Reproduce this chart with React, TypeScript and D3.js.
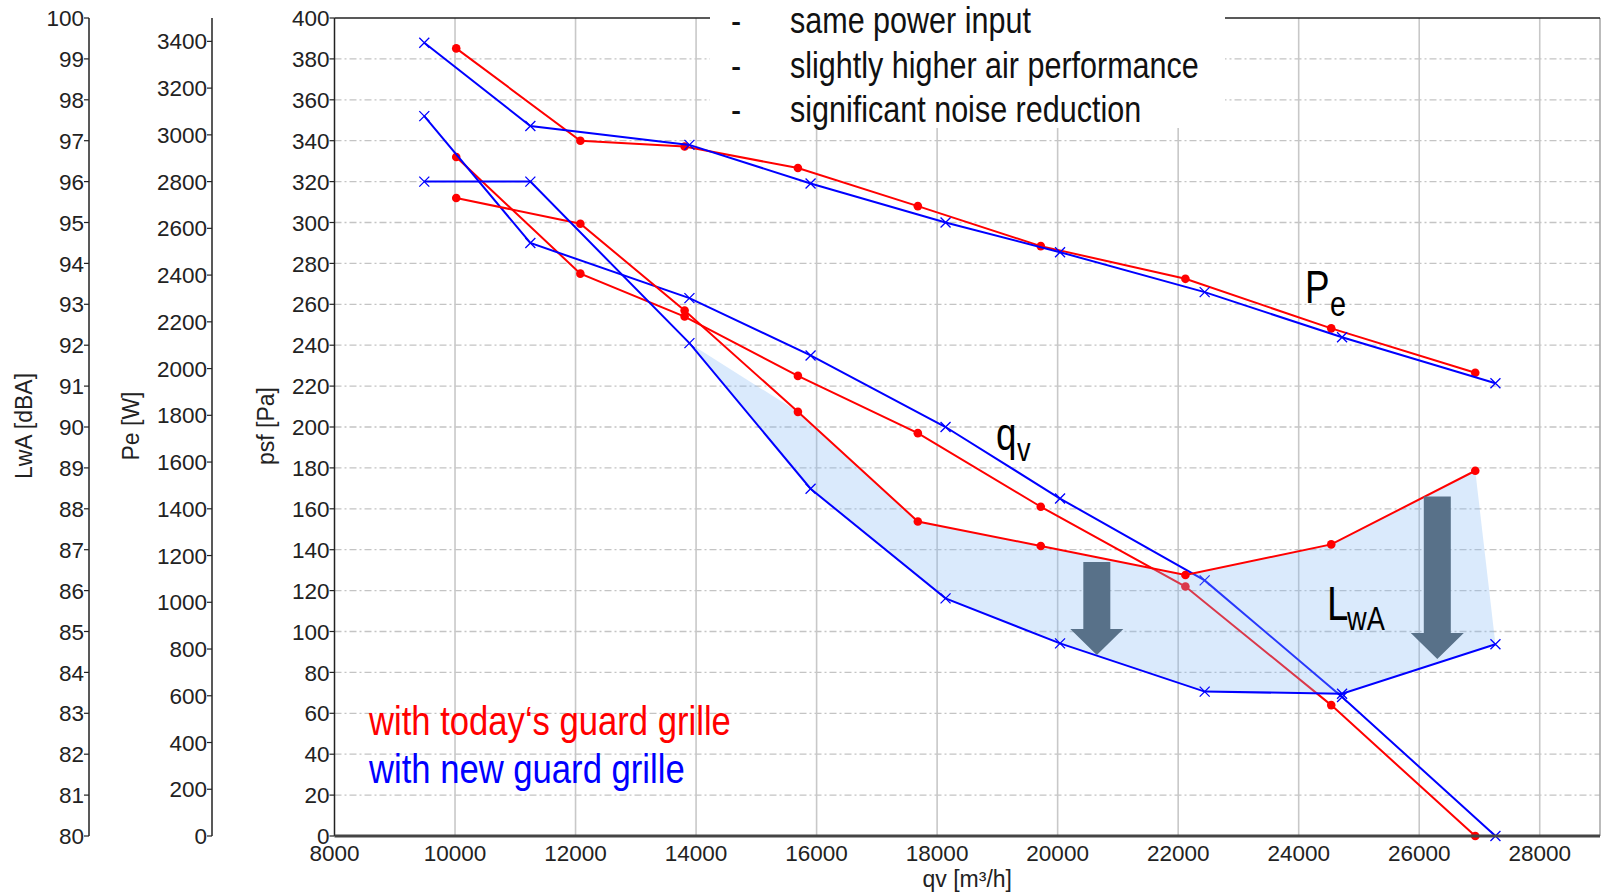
import * as d3 from "d3";

// flow rate qv [m³/h] of the measured points
const qToday = [10020, 12080, 13810, 15690, 17680, 19720, 22120, 24540, 26930];
const qNew = [9490, 11250, 13890, 15900, 18140, 20040, 22440, 24720, 27265];

// power input Pe [W]
const peToday = [3370, 2975, 2950, 2858, 2695, 2524, 2384, 2172, 1982];
const peNew = [3394, 3038, 2957, 2792, 2625, 2498, 2327, 2134, 1937];

// static pressure psf [Pa]
const psfToday = [332, 275, 254, 225, 197, 161, 122, 64, 0];
const psfNew = [352, 290, 263, 235, 200, 165, 125, 68, 0];

// sound power LwA [dBA]
const lwaToday = [95.6, 94.97, 92.85, 90.37, 87.69, 87.09, 86.38, 87.13, 88.93];
const lwaNew = [96.0, 96.0, 92.05, 88.49, 85.81, 84.71, 83.53, 83.48, 84.69];

const xTicks = d3.range(8000, 28001, 2000);
const psfTicks = d3.range(0, 401, 20);
const peTicks = d3.range(0, 3401, 200);
const lwaTicks = d3.range(80, 101, 1);

const notes = ["same power input", "slightly higher air performance", "significant noise reduction"];
const legend = ["with today\u2018s guard grille", "with new guard grille"];

// arrows (q, top psf, tip psf)
const arrows = [
  { q: 20650, top: 134, tip: 88.5 },
  { q: 26300, top: 166, tip: 86.5 },
];

const FONT = "'Liberation Sans', Arial, sans-serif";
const RED = "#ff0000";
const BLUE = "#0000ff";

export default function App() {
  const x = d3.scaleLinear().domain([8000, 29000]).range([334.5, 1600]);
  const yPsf = d3.scaleLinear().domain([0, 400]).range([836, 18]);
  const yPe = d3.scaleLinear().domain([0, 3500]).range([836, 18]);
  const yLwa = d3.scaleLinear().domain([80, 100]).range([836, 18]);

  const line = d3.line<[number, number]>();
  const pts = (qs: number[], vs: number[], y: d3.ScaleLinear<number, number>) =>
    qs.map((q, i) => [x(q), y(vs[i])] as [number, number]);

  const peT = pts(qToday, peToday, yPe);
  const peN = pts(qNew, peNew, yPe);
  const psT = pts(qToday, psfToday, yPsf);
  const psN = pts(qNew, psfNew, yPsf);
  const lwT = pts(qToday, lwaToday, yLwa);
  const lwN = pts(qNew, lwaNew, yLwa);

  // shaded noise reduction area
  const area = [lwN[2], ...lwT.slice(3), ...lwN.slice(2).reverse()];

  const dots = (p: [number, number][]) =>
    p.map((d, i) => <circle key={i} cx={d[0]} cy={d[1]} r={4.3} fill={RED} />);
  const crosses = (p: [number, number][]) =>
    p.map((d, i) => (
      <path key={i} d={`M${d[0] - 5},${d[1] - 5}L${d[0] + 5},${d[1] + 5}M${d[0] - 5},${d[1] + 5}L${d[0] + 5},${d[1] - 5}`} stroke={BLUE} strokeWidth={1.3} />
    ));

  const x0 = x(8000), x1 = x(29000);
  const yTop = yPsf(400), yBot = yPsf(0);

  const yAxis = (ax: number, ticks: number[], y: d3.ScaleLinear<number, number>, key: string) => (
    <g key={key}>
      <line x1={ax} x2={ax} y1={yTop} y2={yBot} stroke="#222" strokeWidth={1.5} />
      {ticks.map((t) => (
        <g key={t}>
          <line x1={ax - 5} x2={ax} y1={y(t)} y2={y(t)} stroke="#222" strokeWidth={1.2} />
          <text x={ax - 5} y={y(t)} dy="0.36em" textAnchor="end" fontSize={22.5} fill="#222">{t}</text>
        </g>
      ))}
    </g>
  );

  return (
    <div style={{ position: "absolute", left: 0, top: 0 }}>
      <svg width={1607} height={896} style={{ display: "block" }} fontFamily={FONT}>
        <rect width={1607} height={896} fill="#fff" />
        {/* grid */}
        {psfTicks.filter((t) => t > 0 && t < 400).map((t) => (
          <line key={t} x1={x0} x2={x1} y1={yPsf(t)} y2={yPsf(t)} stroke="#c4c4c4" strokeWidth={1.3} strokeDasharray="7,3,2,3" />
        ))}
        {xTicks.filter((t) => t > 8000).map((t) => (
          <line key={t} x1={x(t)} x2={x(t)} y1={yTop} y2={yBot} stroke="#c8c8c8" strokeWidth={1.6} />
        ))}
        <line x1={x1} x2={x1} y1={yTop} y2={yBot} stroke="#aaa" strokeWidth={1.6} />

        {/* pressure curves under the shading */}
        <path d={line(psT) ?? ""} fill="none" stroke={RED} strokeWidth={2} />
        {dots(psT)}
        <path d={line(psN) ?? ""} fill="none" stroke={BLUE} strokeWidth={2} />
        {crosses(psN)}

        <path d={line(area) ?? ""} fill="rgb(132,185,245)" fillOpacity={0.3} stroke="none" />

        <path d={line(peT) ?? ""} fill="none" stroke={RED} strokeWidth={2} />
        {dots(peT)}
        <path d={line(peN) ?? ""} fill="none" stroke={BLUE} strokeWidth={2} />
        {crosses(peN)}
        <path d={line(lwT) ?? ""} fill="none" stroke={RED} strokeWidth={2} />
        {dots(lwT)}
        <path d={line(lwN) ?? ""} fill="none" stroke={BLUE} strokeWidth={2} />
        {crosses(lwN)}

        {/* arrows */}
        {arrows.map((a, i) => {
          const cx = x(a.q), t = yPsf(a.top), tip = yPsf(a.tip);
          const hb = tip - 26;
          return (
            <path key={i} fill="#587189"
              d={`M${cx - 13.5},${t}H${cx + 13.5}V${hb}H${cx + 26.5}L${cx},${tip}L${cx - 26.5},${hb}H${cx - 13.5}Z`} />
          );
        })}

        {/* axes */}
        {yAxis(89, lwaTicks, yLwa, "lwa")}
        {yAxis(212, peTicks, yPe, "pe")}
        {yAxis(x0, psfTicks, yPsf, "psf")}
        <line x1={x0} x2={x1} y1={yBot} y2={yBot} stroke="#444" strokeWidth={3} />
        <line x1={x0} x2={x1} y1={yTop} y2={yTop} stroke="#222" strokeWidth={1.3} />
        {xTicks.map((t) => (
          <text key={t} x={x(t)} y={861} textAnchor="middle" fontSize={22.5} fill="#222">{t}</text>
        ))}
        <text x={(x0 + x1) / 2} y={887} textAnchor="middle" fontSize={23} fill="#222">qv [m³/h]</text>
        <text transform="translate(24,426) rotate(-90)" dy="0.36em" textAnchor="middle" fontSize={23} fill="#222">LwA [dBA]</text>
        <text transform="translate(131,426) rotate(-90)" dy="0.36em" textAnchor="middle" fontSize={23} fill="#222">Pe [W]</text>
        <text transform="translate(266,426) rotate(-90)" dy="0.36em" textAnchor="middle" fontSize={23} fill="#222">psf [Pa]</text>

        {/* notes box */}
        <rect x={710} y={0} width={515} height={128} fill="#fff" />
        {notes.map((n, i) => (
          <g key={n}>
            <text transform={`translate(731,${33 + i * 44.5}) scale(0.825,1)`} fontSize={37} fill="#111">-</text>
            <text transform={`translate(790,${33 + i * 44.5}) scale(0.825,1)`} fontSize={37} fill="#111">{n}</text>
          </g>
        ))}

        {/* curve labels */}
        <text transform="translate(1305,303) scale(0.8,1)" fontSize={46} fill="#000">P</text>
        <text transform="translate(1330,316) scale(0.8,1)" fontSize={36} fill="#000">e</text>
        <text transform="translate(996,450) scale(0.8,1)" fontSize={46} fill="#000">q</text>
        <text transform="translate(1017,461) scale(0.8,1)" fontSize={34} fill="#000">v</text>
        <text transform="translate(1327,620) scale(0.8,1)" fontSize={48} fill="#000">L</text>
        <text transform="translate(1347,630) scale(0.8,1)" fontSize={34} fill="#000">wA</text>

        {/* legend */}
        <text transform="translate(369,735) scale(0.845,1)" fontSize={41} fill={RED}>{legend[0]}</text>
        <text transform="translate(369,783) scale(0.845,1)" fontSize={41} fill={BLUE}>{legend[1]}</text>
      </svg>
    </div>
  );
}
